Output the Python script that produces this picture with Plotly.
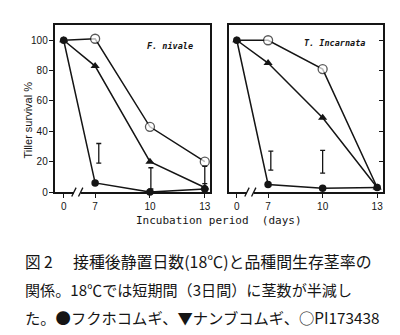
import plotly.graph_objects as go

# ---- data -------------------------------------------------------------
days = [0, 7, 10, 13]
day_labels = ["0", "7", "10", "13"]
y_ticks = [0, 20, 40, 60, 80, 100]

# F. nivale
niv_fukuho = [100, 6, 0, 2]      # ● フクホコムギ
niv_nanbu = [100, 83, 20, 3]     # ▲ ナンブコムギ
niv_pi = [100, 101, 43, 20]      # ○ PI173438
niv_lsd_day = [7.2, 10.05, 13]
niv_lsd_lo = [19, 2, 5.5]
niv_lsd_hi = [32, 16, 17]

# T. incarnata
inc_fukuho = [100, 5, 2.5, 3]
inc_nanbu = [100, 85, 49, 3]
inc_pi = [100, 100, 81, 3]
inc_lsd_day = [7.15, 10.0]
inc_lsd_lo = [14.5, 12.5]
inc_lsd_hi = [27, 27.5]

caption_head = "図 2"
caption_lines = [
    "接種後静置日数(18℃)と品種間生存茎率の",
    "関係。18℃では短期間（3日間）に茎数が半減し",
    "た。●フクホコムギ、▼ナンブコムギ、○PI173438",
]

# ---- broken time axis: day 0 is pulled close to day 7 -------------------
ZERO_POS = 5.28


def pos(d):
    return d if d >= 7 else ZERO_POS + d * (7 - ZERO_POS) / 7


X_RANGE = [4.83, 13.3]
Y_RANGE = [0, 110]
W, H = 400, 335
DOM_L = [0.139, 0.527]
DOM_R = [0.573, 0.959]
DOM_Y = [0.418, 0.924]

INK = "#151515"
FONT = "Liberation Sans"


def px_x(dom, v):
    return dom[0] + (v - X_RANGE[0]) / (X_RANGE[1] - X_RANGE[0]) * (dom[1] - dom[0])


def px_y(v):
    return DOM_Y[0] + (v - Y_RANGE[0]) / (Y_RANGE[1] - Y_RANGE[0]) * (DOM_Y[1] - DOM_Y[0])


fig = go.Figure()


def add_panel(xa, ya, fuk, nan, pi, lsd_d, lsd_lo, lsd_hi):
    xs = [pos(d) for d in days]
    common = dict(xaxis=xa, yaxis=ya, mode="lines+markers", showlegend=False,
                  cliponaxis=False, line=dict(color=INK, width=1.5))
    # open circles are hidden where a filled dot sits on the same point
    pi_sizes = [0 if p == f else 9 for p, f in zip(pi, fuk)]
    fig.add_trace(go.Scatter(x=xs, y=pi, marker=dict(symbol="circle", size=pi_sizes, color="white",
                                                     line=dict(color=INK, width=1.3)), **common))
    fig.add_trace(go.Scatter(x=xs, y=nan, marker=dict(symbol="triangle-up", size=8, color=INK,
                                                      line=dict(width=0)), **common))
    fig.add_trace(go.Scatter(x=xs, y=fuk, marker=dict(symbol="circle", size=7.5, color=INK,
                                                      line=dict(width=0)), **common))
    mid = [(a + b) / 2 for a, b in zip(lsd_lo, lsd_hi)]
    half = [(b - a) / 2 for a, b in zip(lsd_lo, lsd_hi)]
    fig.add_trace(go.Scatter(x=lsd_d, y=mid, xaxis=xa, yaxis=ya, mode="markers", showlegend=False,
                             marker=dict(size=0.1, color="rgba(0,0,0,0)"), cliponaxis=False,
                             error_y=dict(type="data", array=half, visible=True, color=INK,
                                          thickness=1.3, width=2.5)))


add_panel("x", "y", niv_fukuho, niv_nanbu, niv_pi, niv_lsd_day, niv_lsd_lo, niv_lsd_hi)
add_panel("x2", "y2", inc_fukuho, inc_nanbu, inc_pi, inc_lsd_day, inc_lsd_lo, inc_lsd_hi)

xaxis_style = dict(range=X_RANGE, tickvals=[pos(d) for d in days], ticktext=day_labels,
                   ticks="outside", ticklen=4, tickwidth=1.2, tickcolor=INK,
                   showline=True, linewidth=1.5, linecolor=INK, mirror=True,
                   showgrid=False, zeroline=False,
                   tickfont=dict(family=FONT, size=10, color=INK))
yaxis_style = dict(range=Y_RANGE, tickvals=y_ticks, tickwidth=1.2, tickcolor=INK,
                   showline=True, linewidth=1.5, linecolor=INK, mirror=True,
                   showgrid=False, zeroline=False, domain=DOM_Y,
                   tickfont=dict(family=FONT, size=10, color=INK))

fig.update_layout(
    width=W, height=H, margin=dict(l=0, r=0, t=0, b=0),
    paper_bgcolor="white", plot_bgcolor="white",
    xaxis=dict(domain=DOM_L, anchor="y", **xaxis_style),
    yaxis=dict(anchor="x", ticks="outside", ticklen=5, ticklabelstandoff=-1, **yaxis_style),
    xaxis2=dict(domain=DOM_R, anchor="y2", **xaxis_style),
    yaxis2=dict(anchor="x2", side="right", ticks="inside", ticklen=4,
                showticklabels=False, **yaxis_style),
)

# axis break marks "//" between day 0 and day 7
BREAK_AT = [5.84, 6.21]
for dom in (DOM_L, DOM_R):
    x0, x1 = px_x(dom, BREAK_AT[0]), px_x(dom, BREAK_AT[1])
    y0 = px_y(0)
    fig.add_shape(type="rect", xref="paper", yref="paper", x0=x0, x1=x1,
                  y0=y0 - 2.5 / H, y1=y0 + 2.5 / H, fillcolor="white",
                  line=dict(width=0), layer="above")
    for xb in (x0, x1):
        fig.add_shape(type="line", xref="paper", yref="paper",
                      x0=xb - 2.2 / W, x1=xb + 2.2 / W, y0=y0 - 4.5 / H, y1=y0 + 4.5 / H,
                      line=dict(color=INK, width=1.3), layer="above")


def note(text, x, y, size, family=FONT, xanchor="center", angle=0):
    fig.add_annotation(text=text, xref="paper", yref="paper", x=x, y=y,
                       xanchor=xanchor, yanchor="middle", textangle=angle,
                       showarrow=False, font=dict(family=family, size=size, color=INK))


# panel titles
note("<b><i>F. nivale</i></b>", 170 / W, 1 - 47 / H, 8.5, "DejaVu Sans Mono")
note("<b><i>T. Incarnata</i></b>", 335 / W, 1 - 43.5 / H, 8.5, "DejaVu Sans Mono")

# axis titles
note("Tiller survival %", 28.5 / W, 1 - 122 / H, 11, angle=-90)
note("Incubation period&nbsp;&nbsp;(days)", 220 / W, 1 - 224 / H, 11, "DejaVu Sans Mono")

# caption
CAP = "Noto Sans CJK JP"
note(caption_head, 23 / W, 1 - 265 / H, 15.6, CAP, xanchor="left")
note(caption_lines[0], 71 / W, 1 - 265 / H, 15.9, CAP, xanchor="left")
note(caption_lines[1], 23 / W, 1 - 293.5 / H, 15.1, CAP, xanchor="left")
note(caption_lines[2], 23 / W, 1 - 322 / H, 15.3, CAP, xanchor="left")

fig.write_html("out.html")
